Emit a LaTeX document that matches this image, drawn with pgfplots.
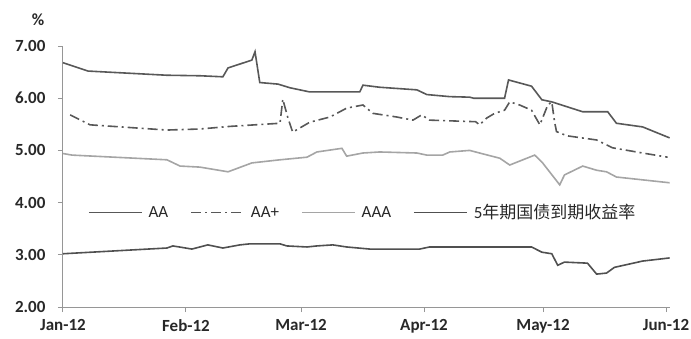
\documentclass[border=0pt]{standalone}
\usepackage{fontspec}
\setmainfont{Carlito}
\newfontfamily\cjk{Noto Sans CJK SC}
\usepackage{pgfplots}
\pgfplotsset{compat=1.18}

\definecolor{aacol}{RGB}{88,88,88}
\definecolor{aapcol}{RGB}{88,88,88}
\definecolor{aaacol}{RGB}{165,165,165}
\definecolor{govcol}{RGB}{80,80,80}
\definecolor{axcol}{RGB}{150,150,150}
\definecolor{lblcol}{RGB}{40,40,40}

% x values are days counted from 1 Jan 2012
\pgfplotstableread{
d v
0 6.68
6.3 6.52
26.2 6.44
34.5 6.43
40.3 6.41
41.6 6.58
47.6 6.73
48.4 6.89
49.6 6.30
54.2 6.27
57.2 6.20
62.2 6.12
74.8 6.12
75.6 6.25
79.8 6.21
89.2 6.16
91.7 6.07
97.5 6.03
102.5 6.02
103.5 6.00
111.3 6.00
112.3 6.35
118.1 6.23
120.7 5.97
123.2 5.93
131 5.74
137.3 5.74
139.5 5.52
146.1 5.45
152.9 5.24
}\aa

\pgfplotstableread{
d v
1.8 5.68
6.8 5.49
26.2 5.39
34.5 5.41
42.1 5.46
54.7 5.52
55.4 5.98
56.7 5.62
57.9 5.35
62.2 5.54
67.3 5.64
71.5 5.81
75.6 5.87
78.1 5.71
84.1 5.64
88.2 5.58
90.4 5.68
92.4 5.58
100 5.56
104 5.55
105 5.49
106.8 5.62
108.8 5.71
111.3 5.77
112.6 5.93
115.1 5.87
118.1 5.77
120.2 5.49
122.2 5.87
123.2 5.93
123.9 5.55
124.4 5.36
127 5.28
134.5 5.20
138.5 5.05
146.1 4.95
152.4 4.87
}\aaplus

\pgfplotstableread{
d v
0 4.94
2.3 4.91
26.2 4.82
29.5 4.70
34.5 4.68
41.6 4.59
47.6 4.76
54.7 4.82
61.5 4.87
64.0 4.97
70.3 5.04
71.5 4.89
75.6 4.95
79.8 4.97
89.2 4.95
91.7 4.91
95.7 4.91
97.5 4.97
102.5 5.00
105 4.95
110.1 4.85
112.6 4.72
118.9 4.91
120.9 4.76
125.2 4.34
126.4 4.53
131 4.70
134.5 4.62
137 4.59
139.5 4.49
152.9 4.38
}\aaa

\pgfplotstableread{
d v
0 3.02
26.2 3.13
27.7 3.17
32.5 3.11
36.5 3.19
40.3 3.13
44.6 3.19
47.1 3.21
54.7 3.21
56.4 3.17
61.5 3.15
64.0 3.17
68.0 3.19
71.5 3.15
77.3 3.11
89.9 3.11
92.4 3.15
118.1 3.15
120.7 3.05
123.2 3.02
124.7 2.80
126.4 2.86
132.2 2.84
134.5 2.63
137 2.65
139 2.76
146.1 2.88
152.9 2.94
}\gov

\begin{document}
\begin{tikzpicture}
\begin{axis}[
  scale only axis,
  width=607pt, height=261pt,
  xmin=0, xmax=153, ymin=2, ymax=7,
  axis x line=bottom, axis y line=left,
  axis line style={-, axcol, line width=1pt},
  tick style={axcol, line width=1pt},
  tick align=outside,
  major tick length=5pt,
  xtick={0,31,60,91,121,152},
  xticklabels={Jan-12,Feb-12,Mar-12,Apr-12,May-12,Jun-12},
  ytick={2,3,4,5,6,7},
  yticklabels={2.00,3.00,4.00,5.00,6.00,7.00},
  ticklabel style={font=\fontsize{17}{19}\selectfont\bfseries, text=lblcol},
  yticklabel style={xshift=-9pt},
  xticklabel style={yshift=-4pt},
  legend columns=4,
  legend style={at={(0.036,0.362)}, anchor=west, draw=none, fill=none,
    font=\fontsize{17}{19}\selectfont, text=lblcol,
    /tikz/every odd column/.append style={column sep=4pt},
    /tikz/every even column/.append style={column sep=20pt}},
  legend image code/.code={\draw[#1] (0pt,0pt) -- (53pt,0pt);},
  clip=false,
]
\addplot[aacol, line width=1.6pt] table[x=d, y=v] {\aa};
\addlegendentry{AA}
\addplot[aapcol, line width=1.6pt, dash pattern=on 10pt off 4pt on 2pt off 4pt] table[x=d, y=v] {\aaplus};
\addlegendentry{AA+}
\addplot[aaacol, line width=1.6pt] table[x=d, y=v] {\aaa};
\addlegendentry{AAA}
\addplot[govcol, line width=1.6pt] table[x=d, y=v] {\gov};
\addlegendentry{5{\cjk 年期国债到期收益率}}
\node[font=\fontsize{17}{19}\selectfont\bfseries, text=lblcol] at (rel axis cs:-0.041,1.1) {\%};
\end{axis}
\pgfresetboundingbox
\path (current axis.south west) ++(-63pt,-31pt) rectangle ++(691pt,338pt);
\end{tikzpicture}
\end{document}
